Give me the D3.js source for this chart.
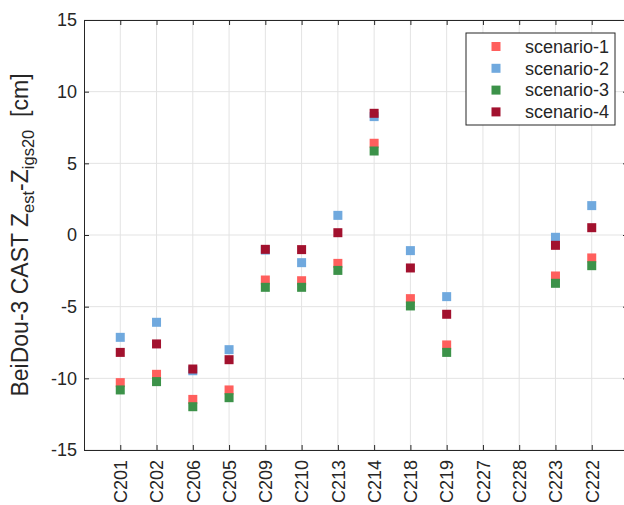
<!DOCTYPE html>
<html>
<head>
<meta charset="utf-8">
<script src="https://cdn.jsdelivr.net/npm/d3@7"></script>
<style>
  body { margin: 0; background: #fff; }
  svg { display: block; font-family: "Liberation Sans", Arial, sans-serif; }
</style>
</head>
<body>
<div id="chart"></div>
<script>
const stations = ['C201', 'C202', 'C206', 'C205', 'C209', 'C210', 'C213', 'C214', 'C218', 'C219', 'C227', 'C228', 'C223', 'C222'];
const yTicks = [-15, -10, -5, 0, 5, 10, 15];
const seriesNames = ['scenario-1', 'scenario-2', 'scenario-3', 'scenario-4'];
const seriesColors = ['#ff5f5d', '#70a9de', '#3c9249', '#a2112e'];

// values in cm, null where the station has no estimate
const scenario1 = [-10.3, -9.72, -11.47, -10.81, -3.14, -3.19, -1.98, 6.40, -4.44, -7.67, null, null, -2.86, -1.60];
const scenario2 = [-7.14, -6.09, -9.47, -8.0, -1.05, -1.93, 1.37, 8.26, -1.09, -4.30, null, null, -0.16, 2.05];
const scenario3 = [-10.81, -10.23, -11.98, -11.35, -3.65, -3.65, -2.47, 5.86, -4.95, -8.19, null, null, -3.37, -2.14];
const scenario4 = [-8.19, -7.60, -9.35, -8.70, -1.0, -1.02, 0.16, 8.49, -2.30, -5.53, null, null, -0.72, 0.51];
const allSeries = [scenario1, scenario2, scenario3, scenario4];

const width = 624, height = 505;
const margin = { top: 20, right: -4, bottom: 55, left: 84 };
const plotW = width - margin.left - margin.right;
const plotH = height - margin.top - margin.bottom;
const axisColor = '#262626';
const gridColor = '#e3e3e3';

const svg = d3.select('#chart')
    .append('svg')
    .attr('width', width)
    .attr('height', height);

const g = svg.append('g')
    .attr('transform', `translate(${margin.left},${margin.top})`);

const x = d3.scalePoint()
    .domain(stations)
    .range([0, plotW])
    .padding(1);

const y = d3.scaleLinear()
    .domain([-15, 15])
    .range([plotH, 0]);

// grid
g.append('g')
    .selectAll('line')
    .data(stations)
    .join('line')
    .attr('x1', d => x(d)).attr('x2', d => x(d))
    .attr('y1', 0).attr('y2', plotH)
    .attr('stroke', gridColor);

g.append('g')
    .selectAll('line')
    .data(yTicks)
    .join('line')
    .attr('x1', 0).attr('x2', plotW)
    .attr('y1', d => y(d)).attr('y2', d => y(d))
    .attr('stroke', gridColor);

// axes (ticks pointing inward)
const styleAxis = sel => {
    sel.select('.domain').attr('stroke', axisColor);
    sel.selectAll('.tick line').attr('stroke', axisColor);
    sel.selectAll('.tick text').attr('fill', axisColor).style('font-size', '18px');
};

g.append('g')
    .call(d3.axisLeft(y).tickValues(yTicks).tickFormat(d => String(d)).tickSizeInner(-5).tickSizeOuter(0).tickPadding(7))
    .call(styleAxis);

g.append('g')
    .attr('transform', `translate(${plotW},0)`)
    .call(d3.axisRight(y).tickValues(yTicks).tickSizeInner(-5).tickSizeOuter(0).tickFormat(''))
    .call(styleAxis);

g.append('g')
    .call(d3.axisTop(x).tickSizeInner(-5).tickSizeOuter(0).tickFormat(''))
    .call(styleAxis);

const xAxis = g.append('g')
    .attr('transform', `translate(0,${plotH})`)
    .call(d3.axisBottom(x).tickSizeInner(-5).tickSizeOuter(0).tickPadding(10))
    .call(styleAxis);

xAxis.selectAll('.tick text')
    .attr('transform', 'rotate(-90)')
    .attr('text-anchor', 'end')
    .attr('x', -10)
    .attr('y', 0)
    .attr('dy', '0.35em');

// markers
const size = 9;
allSeries.forEach((vals, si) => {
    const pts = vals.map((v, i) => ({ station: stations[i], value: v })).filter(d => d.value !== null);
    g.append('g')
        .selectAll('rect')
        .data(pts)
        .join('rect')
        .attr('x', d => x(d.station) - size / 2)
        .attr('y', d => y(d.value) - size / 2)
        .attr('width', size)
        .attr('height', size)
        .attr('fill', seriesColors[si]);
});

// y label with subscripts
const label = svg.append('text')
    .attr('transform', `translate(28,${margin.top + plotH / 2}) rotate(-90)`)
    .attr('text-anchor', 'middle')
    .attr('fill', axisColor)
    .style('font-size', '23px')
    .style('white-space', 'pre');
label.append('tspan').text('BeiDou-3 CAST Z');
label.append('tspan').attr('dy', 6).style('font-size', '16.5px').text('est');
label.append('tspan').attr('dy', -6).text('-Z');
label.append('tspan').attr('dy', 6).style('font-size', '16.5px').text('igs20');
label.append('tspan').attr('dy', -6).text('  [cm]');

// legend
const legend = svg.append('g').attr('transform', 'translate(466,33)');
legend.append('rect')
    .attr('width', 149)
    .attr('height', 92)
    .attr('fill', '#fff')
    .attr('stroke', axisColor);

const items = legend.selectAll('g')
    .data(seriesNames)
    .join('g')
    .attr('transform', (d, i) => `translate(0,${13.5 + i * 21.8})`);

items.append('rect')
    .attr('x', 30 - size / 2)
    .attr('y', -size / 2)
    .attr('width', size)
    .attr('height', size)
    .attr('fill', (d, i) => seriesColors[i]);

items.append('text')
    .attr('x', 59)
    .attr('dy', '0.35em')
    .attr('fill', axisColor)
    .style('font-size', '18px')
    .text(d => d);
</script>
</body>
</html>
